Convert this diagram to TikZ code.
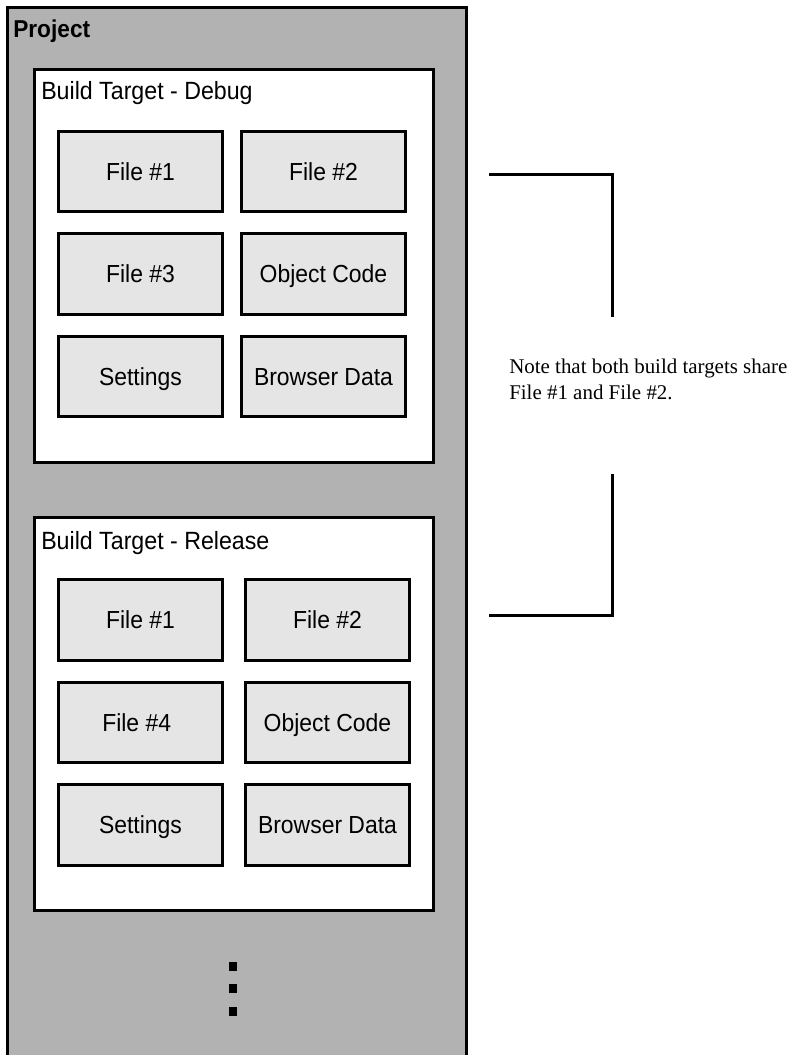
\documentclass[tikz,border=0pt]{standalone}
\usepackage{fontspec}
\setmainfont[FakeStretch=0.93]{Liberation Sans}
\newfontfamily\notefont{Liberation Serif}
\definecolor{projgray}{gray}{0.70}
\definecolor{filegray}{gray}{0.90}
\tikzset{
  x=0.75pt,y=-0.75pt,
  projbox/.style={draw=black,fill=projgray,line width=2.25pt},
  targetbox/.style={draw=black,fill=white,line width=2.25pt},
  filebox/.style={draw=black,fill=filegray,line width=2.25pt,inner sep=0pt,align=center,text height=13pt,text depth=0pt,font=\fontsize{18.5}{20}\selectfont},
  boxlabel/.style={anchor=base west,inner sep=0pt,font=\fontsize{18.7}{20}\selectfont},
  bracket/.style={draw=black,line width=2.25pt,line cap=butt,miter limit=10},
  dotmark/.style={fill=black,draw=none,minimum width=6pt,minimum height=6.75pt,inner sep=0pt},
  notetext/.style={anchor=base west,inner sep=0pt,align=left,font=\notefont\fontsize{15.7}{19.5}\selectfont}
}
\newcommand{\fbx}[6]{\node[filebox,minimum width=#4*0.75pt,minimum height=#5*0.75pt] (#1) at (#2,#3) {#6};}
\begin{document}
\begin{tikzpicture}
\useasboundingbox (0,0) rectangle (791,1055);
\begin{scope}
\clip (0,0) rectangle (791,1055);
\path[projbox] (7.2,7.2) rectangle (466.6,1070);
\end{scope}
\node[boxlabel,font=\fontsize{18.3}{20}\selectfont\bfseries] (project) at (13,37.3) {Project};
\path[targetbox] (34.5,70) rectangle (433.5,462);
\path[targetbox] (34.5,517.5) rectangle (433.5,910.5);
\node[boxlabel] (debug) at (41,100) {Build Target - Debug};
\node[boxlabel] (release) at (41,549) {Build Target - Release};
\fbx{d1}{140.5}{171.5}{164}{80}{File \#1}
\fbx{d2}{323.5}{171.5}{164}{80}{File \#2}
\fbx{d3}{140.5}{274}{164}{81}{File \#3}
\fbx{d4}{323.5}{274}{164}{81}{Object Code}
\fbx{d5}{140.5}{376.5}{164}{80}{Settings}
\fbx{d6}{323.5}{376.5}{164}{80}{Browser Data}
\fbx{r1}{140.5}{620}{164}{81}{File \#1}
\fbx{r2}{327.5}{620}{164}{81}{File \#2}
\fbx{r3}{140.5}{722.5}{164}{80}{File \#4\hspace*{5.7pt}}
\fbx{r4}{327.5}{722.5}{164}{80}{Object Code}
\fbx{r5}{140.5}{825}{164}{81}{Settings}
\fbx{r6}{327.5}{825}{164}{81}{Browser Data}
\node[dotmark] (dota) at (233,966.3) {};
\node[dotmark] (dotb) at (233,988.5) {};
\node[dotmark] (dotc) at (233,1011.5) {};
\coordinate (ta) at (489,174.5);
\coordinate (tb) at (612.5,174.5);
\coordinate (tc) at (612.5,316.7);
\coordinate (ba) at (489,615);
\coordinate (bb) at (612.5,615);
\coordinate (bc) at (612.5,474);
\draw[bracket] (ta) -- (tb) -- (tc);
\draw[bracket] (ba) -- (bb) -- (bc);
\node[notetext] (note) at (509,399) {Note that both build targets share\\File \#1 and File \#2.};
\end{tikzpicture}
\end{document}
